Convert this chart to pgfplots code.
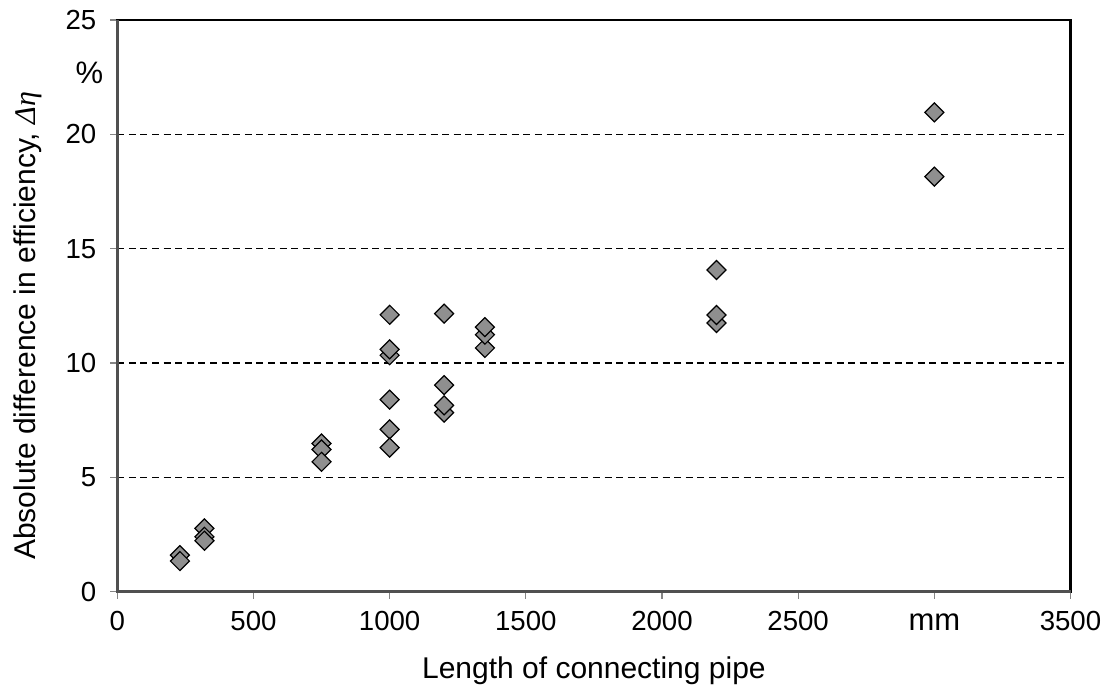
\documentclass[border=0pt]{standalone}
\usepackage{fontspec}
\setmainfont{Liberation Sans}
\newfontfamily\lserif{Liberation Serif}
\usepackage{pgfplots}
\pgfplotsset{compat=1.18}
\definecolor{markgray}{RGB}{143,143,143}
\definecolor{axgray}{RGB}{80,80,80}
\begin{document}
\begin{tikzpicture}
\begin{axis}[
  name=ax,
  scale only axis,
  width=476.6pt, height=285.85pt,
  xmin=0, xmax=3500, ymin=0, ymax=25,
  xtick={0,500,1000,1500,2000,2500,3000,3500},
  xticklabels={0,500,1000,1500,2000,2500,{\vphantom{0}\fontsize{15.5}{17}\selectfont mm},3500},
  ytick={0,5,10,15,20,25},
  yticklabels={0,5,10,15,20,25},
  extra y ticks={22.68},
  extra y tick labels={{\fontsize{15.5}{17}\selectfont\%}},
  extra y tick style={major tick length=0pt, ymajorgrids=false},
  xtick pos=left, ytick pos=left,
  tick align=outside,
  major tick length=3.5pt,
  tick style={axgray!70, line width=0.6pt},
  ymajorgrids,
  major grid style={black, line width=0.55pt, dash pattern=on 3.5pt off 2.3pt},
  axis line style={black, line width=1.2pt},
  /pgf/number format/assume math mode=true,
  ticklabel style={font=\fontsize{13.8}{15}\selectfont},
  yticklabel style={xshift=-3.5pt},
  xticklabel style={yshift=-2.5pt},
  xlabel={Length of connecting pipe},
  ylabel={Absolute difference in efficiency, {\lserif\itshape Δη}},
  label style={font=\fontsize{15}{17}\selectfont},
  xlabel style={at={(axis description cs:0.5,-0.1015)}, anchor=north},
  ylabel style={at={(axis description cs:-0.0713,0.465)}, anchor=south},
  clip=false,
]
\addplot[only marks, mark=square*, mark size=3.36pt,
  mark options={rotate=45, fill=markgray, draw=black, line width=0.6pt}]
  coordinates {
  (230,1.60) (230,1.34)
  (320,2.77) (320,2.40) (320,2.23)
  (750,6.48) (750,6.22) (750,5.68)
  (1000,12.11) (1000,10.34) (1000,10.60) (1000,8.40) (1000,7.10) (1000,6.30)
  (1200,12.16) (1200,9.03) (1200,7.83) (1200,8.15)
  (1350,10.66) (1350,11.24) (1350,11.57)
  (2200,14.07) (2200,11.75) (2200,12.10)
  (3000,20.96) (3000,18.15)
  };
\draw[axgray, line width=1.6pt] (rel axis cs:0,1) -- (rel axis cs:0,0) -- (rel axis cs:1,0);
\end{axis}
\pgfresetboundingbox
\path ([xshift=-58.65pt,yshift=-47.15pt]ax.south west) rectangle ([xshift=16.75pt,yshift=10pt]ax.north east);
\end{tikzpicture}
\end{document}
